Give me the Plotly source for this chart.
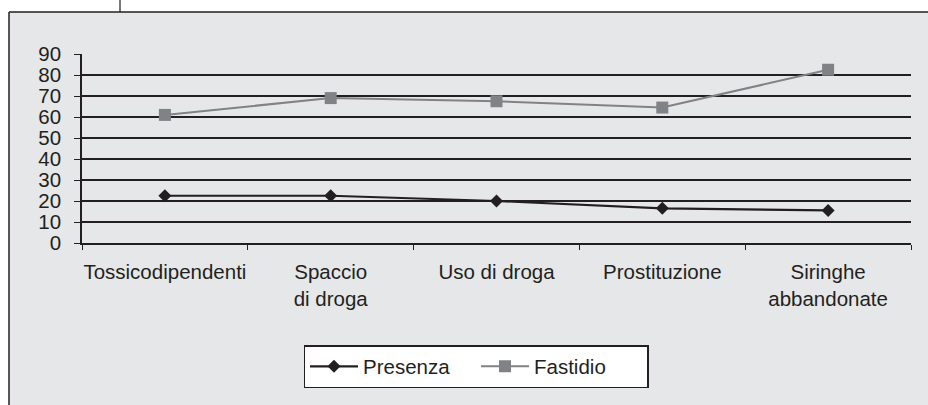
import plotly.graph_objects as go

categories = ["Tossicodipendenti", "Spaccio<br>di droga", "Uso di droga", "Prostituzione", "Siringhe<br>abbandonate"]
presenza = [22.5, 22.5, 20, 16.5, 15.5]
fastidio = [61, 69, 67.5, 64.5, 82.5]
y_ticks = [0, 10, 20, 30, 40, 50, 60, 70, 80, 90]

INK = "#231f20"
GRAY = "#808285"
BG = "#e6e7e8"
W, H = 928, 405
L = 82
R = W - 911
T = 54
B = H - 243
pw = W - L - R
ph = H - T - B

def px_x(px):
    return (px - L) / pw

def px_y(py):
    return (H - B - py) / ph

fig = go.Figure()
fig.add_trace(go.Scatter(
    x=categories, y=presenza, name="Presenza", mode="lines+markers",
    line=dict(color=INK, width=2.2),
    marker=dict(symbol="diamond", size=10, color=INK),
))
fig.add_trace(go.Scatter(
    x=categories, y=fastidio, name="Fastidio", mode="lines+markers",
    line=dict(color=GRAY, width=2),
    marker=dict(symbol="square", size=12, color=GRAY),
))

fig.update_layout(
    width=W, height=H,
    margin=dict(l=L, r=R, t=T, b=B, pad=0, autoexpand=False),
    paper_bgcolor=BG,
    plot_bgcolor=BG,
    font=dict(family="Liberation Sans, Arial, sans-serif", size=20.5, color=INK),
    showlegend=True,
    legend=dict(
        orientation="h", x=px_x(476), xanchor="center", y=px_y(345), yanchor="top",
        bgcolor="white", bordercolor=INK, borderwidth=1.5,
        font=dict(size=20.5, color=INK),
        itemwidth=48, entrywidth=108, entrywidthmode="pixels",
    ),
    shapes=[
        # white strips above and left of the framed panel
        dict(type="rect", xref="paper", yref="paper", layer="below",
             x0=px_x(-20), x1=px_x(1000), y0=px_y(12), y1=px_y(-20),
             fillcolor="white", line=dict(width=0)),
        dict(type="rect", xref="paper", yref="paper", layer="below",
             x0=px_x(-20), x1=px_x(9), y0=px_y(1000), y1=px_y(-20),
             fillcolor="white", line=dict(width=0)),
        # frame edges
        dict(type="line", xref="paper", yref="paper",
             x0=px_x(9), x1=px_x(1000), y0=px_y(12), y1=px_y(12),
             line=dict(color=INK, width=1.5)),
        dict(type="line", xref="paper", yref="paper",
             x0=px_x(9), x1=px_x(9), y0=px_y(12), y1=px_y(1000),
             line=dict(color=INK, width=1.5)),
        dict(type="line", xref="paper", yref="paper",
             x0=px_x(120), x1=px_x(120), y0=px_y(12), y1=px_y(-2),
             line=dict(color=INK, width=1.2)),
    ],
)
fig.update_xaxes(
    type="category", showgrid=False, showline=True, linecolor=INK, linewidth=1.5,
    ticks="outside", tickson="boundaries", ticklen=5, tickcolor=INK, tickwidth=1,
    tickfont=dict(size=20.5, color=INK), range=[-0.5, 4.5], tickangle=0, automargin=False,
    ticklabelstandoff=10,
)
fig.update_yaxes(
    range=[0, 90], tickvals=y_ticks, showgrid=True, gridcolor=INK, gridwidth=1.5,
    showline=True, linecolor=INK, linewidth=1.5, zeroline=False,
    ticks="outside", ticklen=6, tickcolor=INK, tickwidth=1, automargin=False,
    tickfont=dict(size=20.5, color=INK), ticklabelstandoff=9,
)

fig.write_html(
    "out.html",
    config={"displayModeBar": False},
    post_script="document.body.style.margin='0';document.body.style.overflow='hidden';",
)
